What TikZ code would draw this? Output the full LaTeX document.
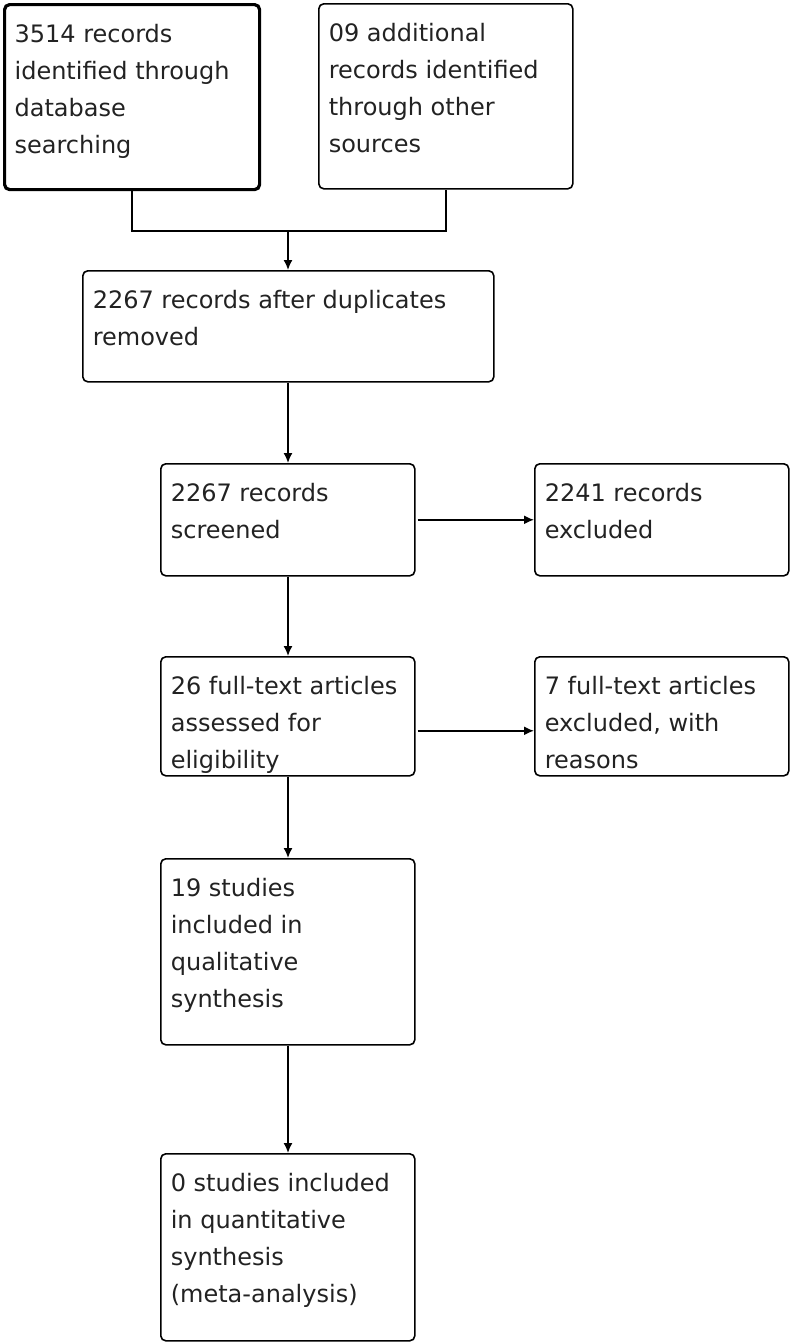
\documentclass[tikz,border=0pt]{standalone}
\usepackage{fontspec}
\setmainfont{DejaVu Sans}
\usepackage{tikz}
\usetikzlibrary{arrows.meta, positioning}

\definecolor{ink}{HTML}{222222}

% box text: width, height, lines
\newcommand{\stagetext}[3]{\parbox[t][#2][t]{#1}{\raggedright\rule{0pt}{38pt}#3}}

\begin{document}
\begin{tikzpicture}[x = 1pt, y = -1pt,
	stage/.style = {draw, rounded corners = 5pt, line width = 1.6pt, anchor = north west,
		inner xsep = 10pt, inner ysep = 0pt, text = ink,
		font = \fontsize{24}{37}\selectfont},
	flow/.style = {line width = 1.6pt, -{Latex[length = 10pt, width = 9pt]}}]
			\useasboundingbox (0,0) rectangle (791,1344);

			\node[stage, line width = 3.2pt] (dbsearch) at (3,3) {\stagetext{235pt}{185pt}{3514 records\\identified through\\database\\searching}};
			\node[stage] (othersrc) at (318,3) {\stagetext{234pt}{185pt}{09 additional\\records identified\\through other\\sources}};
			\node[stage] (dedup) at (82,270) {\stagetext{391pt}{111pt}{2267 records after duplicates\\removed}};
			\node[stage] (screened) at (160,463) {\stagetext{234pt}{112pt}{2267 records\\screened}};
			\node[stage] (excl) at (534,463) {\stagetext{234pt}{112pt}{2241 records\\excluded}};
			\node[stage] (fulltext) at (160,656) {\stagetext{234pt}{119pt}{26 full-text articles\\assessed for\\eligibility}};
			\node[stage] (ftexcl) at (534,656) {\stagetext{234pt}{119pt}{7 full-text articles\\excluded, with\\reasons}};
			\node[stage] (qual) at (160,858) {\stagetext{234pt}{186pt}{19 studies\\included in\\qualitative\\synthesis}};
			\node[stage] (quant) at (160,1153) {\stagetext{234pt}{187pt}{0 studies included\\in quantitative\\synthesis\\(meta-analysis)}};

			\coordinate (join) at (288,231);

			\draw[line width = 1.6pt] (dbsearch.south) |- (join) -| (othersrc.south);
			\draw[flow] (join) -- (dedup.north -| join);
			\draw[flow] (dedup.south -| join) -- (screened.north -| join);
			\draw[flow] ([xshift = 2pt]screened.east) -- (excl.west);
			\draw[flow] (screened.south -| join) -- (fulltext.north -| join);
			\draw[flow] ([xshift = 2pt, yshift = -14.5pt]fulltext.east) -- ([yshift = -14.5pt]ftexcl.west);
			\draw[flow] (fulltext.south -| join) -- (qual.north -| join);
			\draw[flow] (qual.south -| join) -- (quant.north -| join);
		\end{tikzpicture}
\end{document}
